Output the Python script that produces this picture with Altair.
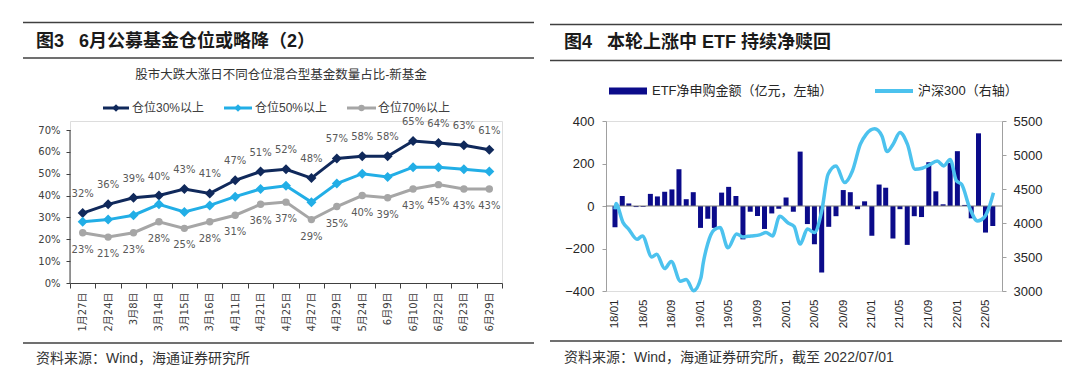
import altair as alt
import pandas as pd

FL = "DejaVu Sans, Noto Sans CJK SC"
FR = "Liberation Sans, Noto Sans CJK SC"
SP = "\u00a0\u00a0\u00a0"

# ---------------- 图3 data ----------------
l_title = "图3" + SP + "6月公募基金仓位或略降（2）"
l_subtitle = "股市大跌大涨日不同仓位混合型基金数量占比-新基金"
l_source = "资料来源：Wind，海通证券研究所"
l_dates = ["1月27日", "2月24日", "3月8日", "3月14日", "3月15日", "3月16日", "4月11日",
           "4月21日", "4月25日", "4月27日", "4月29日", "5月24日", "6月9日", "6月10日",
           "6月22日", "6月23日", "6月29日"]
l_series = ["仓位30%以上", "仓位50%以上", "仓位70%以上"]
pos30 = [32, 36, 39, 40, 43, 41, 47, 51, 52, 48, 57, 58, 58, 65, 64, 63, 61]
pos50 = [28, 29, 31, 36, 32.5, 35.5, 39.5, 43, 44.5, 37, 45.5, 50, 48.5, 53, 53, 52, 51]
pos70 = [23, 21, 23, 28, 25, 28, 31, 36, 37, 29, 35, 40, 39, 43, 45, 43, 43]
l_colors = ["#10295b", "#22aee6", "#a6a6a6"]
l_yticks = [0, 0.1, 0.2, 0.3, 0.4, 0.5, 0.6, 0.7]

# ---------------- 图4 data ----------------
r_title = "图4" + SP + "本轮上涨中 ETF 持续净赎回"
r_source = "资料来源：Wind，海通证券研究所，截至 2022/07/01"
r_series = ["ETF净申购金额（亿元，左轴）", "沪深300（右轴）"]
etf_months = [f"{y}-{m:02d}-01" for y in range(2018, 2023) for m in range(1, 13)][:54]
etf_flow = [-100, 47, 12, -5, -4, 57, 45, 67, 78, 173, 32, 65,
            -103, -60, -103, 63, 90, 47, -157, -27, -47, -108, -35, -13,
            40, -27, 256, -85, -180, -313, -98, -48, 75, 65, -15, 22,
            -140, 101, 86, -153, -15, -183, -48, -52, 206, 69, 8, 203,
            258, 5, -58, 342, -125, -94]
hs300_dates = ["2018-01-01", "2018-01-05", "2018-02-04", "2018-03-01", "2018-04-05", "2018-04-28",
               "2018-06-07", "2018-06-28", "2018-08-01", "2018-08-29", "2018-10-07", "2018-11-01",
               "2018-12-02", "2019-01-03", "2019-01-12", "2019-02-01", "2019-02-28", "2019-03-25",
               "2019-04-28", "2019-06-04", "2019-07-01", "2019-08-04", "2019-09-10", "2019-10-07",
               "2019-11-04", "2019-12-05", "2020-01-10", "2020-02-04", "2020-03-01", "2020-04-01",
               "2020-05-01", "2020-06-01", "2020-06-28", "2020-08-01", "2020-09-07", "2020-10-10",
               "2020-11-13", "2020-12-07", "2021-01-13", "2021-02-13", "2021-03-07", "2021-04-01",
               "2021-05-01", "2021-06-02", "2021-07-04", "2021-08-04", "2021-09-01", "2021-10-07",
               "2021-11-04", "2021-12-01", "2021-12-28", "2022-01-19", "2022-02-22", "2022-03-28",
               "2022-04-25", "2022-05-16", "2022-06-04"]
hs300 = [4200, 4285, 4010, 3907, 3760, 3810,
         3500, 3540, 3330, 3435, 3145, 3170,
         3005, 3200, 3400, 3700, 3900, 3935,
         3635, 3840, 3795, 3810, 3825, 3860,
         3810, 4100, 4000, 3950, 3690, 3910,
         3860, 4175, 4715, 4840, 4595, 4765,
         5160, 5300, 5385, 5280, 5050, 5155,
         5330, 5155, 4790, 4805, 4850, 4910,
         4840, 4935, 4620, 4570, 4225, 4030,
         4080, 4225, 4445]
bar_color = "#0b0b8a"
line_color = "#4cc2ee"

one = pd.DataFrame({"k": [0]})


def hrule(x1, x2, y, color="#404040", w=1.5):
    return alt.Chart(one).mark_rule(color=color, strokeWidth=w).encode(
        x=alt.value(x1), x2=alt.value(x2), y=alt.value(y))


def label(txt, x, y, size, weight="normal", align="left", color="#1a1a1a", font=FR):
    return alt.Chart(pd.DataFrame({"t": [txt]})).mark_text(
        align=align, baseline="middle", fontSize=size, fontWeight=weight, color=color, font=font
    ).encode(x=alt.value(x), y=alt.value(y), text="t:N")


# ---------------- left chart ----------------
LH = 162
ltop = 0.7 * LH / 153

rows = []
for s, vals in zip(l_series, [pos30, pos50, pos70]):
    for d, v in zip(l_dates, vals):
        rows.append({"date": d, "series": s, "value": v / 100})
ldf = pd.DataFrame(rows)

xL = alt.X("date:N", sort=l_dates, title=None,
           scale=alt.Scale(type="band", paddingInner=0, paddingOuter=0),
           axis=alt.Axis(labelAngle=-90, tickBand="extent", tickSize=5, labelPadding=4,
                         domainColor="#404040", tickColor="#404040", labelColor="#404040",
                         labelFont=FL, labelFontSize=10, labelOverlap=False))
ysL = alt.Scale(domain=[0, ltop], nice=False)
yaxL = alt.Axis(values=l_yticks, format=".0%", grid=False, tickSize=4, labelPadding=6,
                domain=False, tickColor="#404040", labelColor="#404040",
                labelFont=FL, labelFontSize=10, labelFlush=False, labelOverlap=False)
yL = alt.Y("value:Q", title=None, scale=ysL, axis=yaxL)
cL = alt.Color("series:N", scale=alt.Scale(domain=l_series, range=l_colors), legend=None)

baseL = alt.Chart(ldf).encode(x=xL, y=yL, color=cL)
l_axisline = alt.Chart(one).mark_rule(color="#404040", strokeWidth=1).encode(
    x=alt.value(0), y=alt.Y(datum=l_yticks[0], scale=ysL, axis=yaxL, title=None),
    y2=alt.Y2(datum=l_yticks[-1]))
l_lines = baseL.mark_line(strokeWidth=3)
l_diam = baseL.transform_filter(alt.datum.series != l_series[2]).mark_point(
    shape="diamond", size=100, filled=True, opacity=1)
l_circ = baseL.transform_filter(alt.datum.series == l_series[2]).mark_point(
    shape="circle", size=55, filled=True, opacity=1)
l_lab_top = alt.Chart(ldf).transform_filter(alt.datum.series == l_series[0]).mark_text(
    dy=-19, fontSize=10, color="#595959", font=FL).encode(
    x=xL, y=yL, text=alt.Text("value:Q", format=".0%"))
l_lab_bot = alt.Chart(ldf).transform_filter(alt.datum.series == l_series[2]).mark_text(
    dy=17, fontSize=10, color="#595959", font=FL).encode(
    x=xL, y=yL, text=alt.Text("value:Q", format=".0%"))

l_deco = [
    hrule(-47, 464, -98.5),
    label(l_title, -34, -79, 18, weight="bold"),
    hrule(-47, 464, -63),
    label(l_subtitle, 211, -46, 12.5, align="center", color="#333333"),
    hrule(-47, 464, 222),
    label(l_source, -34, 238, 14, color="#333333"),
]
leg_x = [(33, 59, 62), (154, 182, 185), (277, 306, 308)]
for i, name in enumerate(l_series):
    x0, x1, xt = leg_x[i]
    l_deco.append(hrule(x0, x1, -13, color=l_colors[i], w=3))
    l_deco.append(alt.Chart(one).mark_point(
        shape="diamond" if i < 2 else "circle", size=55 if i < 2 else 40, filled=True,
        opacity=1, color=l_colors[i]).encode(x=alt.value((x0 + x1) / 2), y=alt.value(-13)))
    l_deco.append(label(name, xt, -13, 12, color="#404040"))

left = alt.layer(l_lines, l_axisline, l_diam, l_circ, l_lab_top, l_lab_bot, *l_deco).properties(
    width=432, height=LH)

# ---------------- right chart ----------------
bdf = pd.DataFrame({"month": etf_months, "flow": etf_flow})
hdf = pd.DataFrame({"date": hs300_dates, "v": hs300})

xs = alt.Scale(type="utc", domain=[alt.DateTime(year=2017, month=12, date=15, utc=True),
                                   alt.DateTime(year=2022, month=6, date=19, utc=True)])
xaxis = alt.Axis(labelExpr="utcFormat(datum.value, '%y/%m')",
                 tickCount={"interval": "month", "step": 4}, labelAngle=-90,
                 domain=False, ticks=False, grid=False, labelPadding=8, labelFontSize=11.5,
                 labelFont=FR, labelColor="#262626", labelOverlap=False, labelFlush=False)

bars = alt.Chart(bdf).mark_bar(size=5, color=bar_color).encode(
    x=alt.X("month:T", scale=xs, axis=xaxis, title=None),
    y=alt.Y("flow:Q", title=None, scale=alt.Scale(domain=[-400, 400], nice=False),
            axis=alt.Axis(values=list(range(-400, 401, 100)), format="d", grid=False, tickSize=4,
                          labelPadding=8, domainColor="#a0a0a0", tickColor="#a0a0a0",
                          labelFont=FR, labelFontSize=13, labelColor="#262626",
                          labelFlush=False, labelOverlap=False)))
zero = alt.Chart(one).mark_rule(color="#7f7f7f", strokeWidth=1).encode(y=alt.datum(0))
bar_layer = alt.layer(bars, zero)

hline = alt.Chart(hdf).mark_line(color=line_color, strokeWidth=3.5, interpolate="monotone").encode(
    x=alt.X("date:T", scale=xs, axis=xaxis, title=None),
    y=alt.Y("v:Q", title=None, scale=alt.Scale(domain=[3000, 5500], nice=False),
            axis=alt.Axis(orient="right", values=list(range(3000, 5501, 500)), format="d",
                          grid=False, tickSize=4, labelPadding=7, domainColor="#a0a0a0",
                          tickColor="#a0a0a0", labelFont=FR, labelFontSize=13,
                          labelColor="#262626", labelFlush=False, labelOverlap=False)))

r_deco = [
    hrule(-56, 456, -96.5),
    label(r_title, -42, -78.5, 18, weight="bold"),
    hrule(-56, 456, -60.5),
    hrule(3, 41, -30, color=bar_color, w=7),
    label(r_series[0], 46, -30, 13, color="#262626"),
    hrule(269, 307, -30, color=line_color, w=4),
    label(r_series[1], 312, -30, 13, color="#262626"),
    hrule(-56, 456, 220),
    label(r_source, -42, 237, 14, color="#333333"),
]

right = alt.layer(bar_layer, hline, *r_deco).resolve_scale(y="independent").properties(
    width=396, height=170)

chart = alt.hconcat(left, right, spacing=12).properties(
    padding={"left": 13, "top": 13, "right": 0, "bottom": 0}
).configure_view(strokeWidth=0).configure(background="white")

chart.save("out.html", embed_options={"renderer": "svg", "actions": False})
